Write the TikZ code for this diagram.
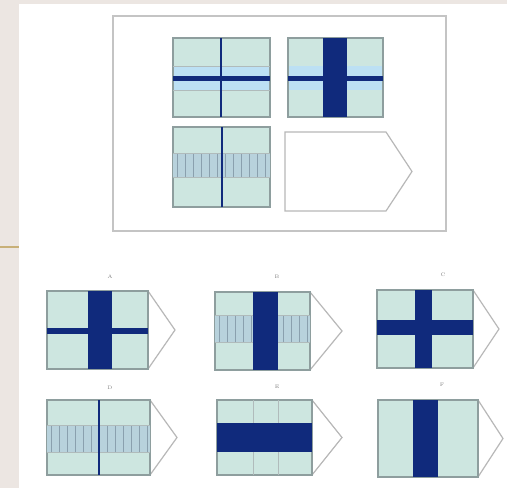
\documentclass[tikz,border=0pt]{standalone}
\usetikzlibrary{calc}
\definecolor{paper}{HTML}{ECE6E2}
\definecolor{goldc}{HTML}{C8B078}
\definecolor{framec}{HTML}{C4C4C4}
\definecolor{cellc}{HTML}{CDE6E0}
\definecolor{lightc}{HTML}{BCE0F4}
\definecolor{gridc}{HTML}{8E9E9E}
\definecolor{navy}{HTML}{102A7C}
\definecolor{hatchc}{HTML}{B8D2DC}
\definecolor{hatchl}{HTML}{8AA0AE}
\definecolor{tagc}{HTML}{B8B8B8}
% tagged cell: corners (x1,y1) (x2,y2), tip x
\newcommand\tagcell[5]{\draw[tag] (#1,#2) -- (#3,#2) -- (#5,{(#2+#4)/2}) -- (#3,#4) -- (#1,#4) -- cycle;}
% hatched band between x1..x2 and y1..y2
\newcommand\hatchband[4]{\fill[hatch] (#1,#2) rectangle (#3,#4);
  \foreach \hx in {#1,...,#3} {\pgfmathparse{mod(\hx-#1,8)==4}\ifnum\pgfmathresult=1 \draw[hatchline] (\hx,#2) -- (\hx,#4);\fi}
  \draw[grid] (#1,#2) -- (#3,#2) (#1,#4) -- (#3,#4);}
\begin{document}
\begin{tikzpicture}[x=1pt,y=-1pt,
  cell/.style={fill=cellc,draw=gridc,line width=1.1pt},
  grid/.style={draw=gridc!70,line width=0.6pt},
  thinbar/.style={draw=navy,line width=5pt},
  bar/.style={fill=navy},
  lightband/.style={fill=lightc},
  hatch/.style={fill=hatchc},
  hatchline/.style={draw=hatchl,line width=0.7pt},
  tag/.style={draw=tagc,line width=1.2pt,fill=white},
  lbl/.style={font=\fontsize{5}{5}\selectfont,text=gray,inner sep=0pt}]
  \useasboundingbox (0,0) rectangle (507,488);
  % page
  \fill[white] (0,0) rectangle (507,488);
  \fill[paper] (0,0) rectangle (19,488);
  \fill[paper] (0,0) rectangle (507,4);
  \draw[goldc,line width=2pt] (0,247) -- (19,247);
  % question frame
  \draw[framec,line width=2.4pt] (113,16) rectangle (446,231);
  % question cell 1
  \draw[cell] (173,38) rectangle (270,117);
  \fill[lightband] (174,66) rectangle (269,90);
  \draw[grid] (173,66) -- (270,66) (173,90) -- (270,90);
  \draw[thinbar] (173,78) -- (270,78);
  \draw[navy,line width=2pt] (221,38) -- (221,117);
  % question cell 2
  \draw[cell] (288,38) rectangle (383,117);
  \fill[lightband] (289,66) rectangle (382,90);
  \draw[thinbar] (288,78) -- (383,78);
  \fill[bar] (323,38) rectangle (347,117);
  % question cell 3
  \draw[cell] (173,127) rectangle (270,207);
  \hatchband{173}{153}{270}{177}
  \draw[navy,line width=2pt] (222,127) -- (222,207);
  % question cell 4 (blank)
  \tagcell{285}{132}{386}{211}{412}
  % option A
  \tagcell{47}{291}{148}{369}{175}
  \draw[cell] (47,291) rectangle (148,369);
  \draw[navy,line width=6pt] (47,331) -- (148,331);
  \fill[bar] (88,291) rectangle (112,369);
  \node[lbl] (la) at (110,277) {A};
  % option B
  \tagcell{215}{292}{310}{370}{342}
  \draw[cell] (215,292) rectangle (310,370);
  \hatchband{215}{315}{310}{342}
  \fill[bar] (253,292) rectangle (278,370);
  \node[lbl] (lb) at (277,277) {B};
  % option C
  \tagcell{377}{290}{473}{368}{499}
  \draw[cell] (377,290) rectangle (473,368);
  \fill[bar] (377,320) rectangle (473,335);
  \fill[bar] (415,290) rectangle (432,368);
  \node[lbl] (lc) at (443,275) {C};
  % option D
  \tagcell{47}{400}{150}{475}{177}
  \draw[cell] (47,400) rectangle (150,475);
  \hatchband{47}{425}{150}{452}
  \draw[navy,line width=2pt] (99,400) -- (99,475);
  \node[lbl] (ld) at (110,388) {D};
  % option E
  \tagcell{217}{400}{312}{475}{342}
  \draw[cell] (217,400) rectangle (312,475);
  \draw[grid] (253,400) -- (253,475) (278,400) -- (278,475);
  \fill[bar] (217,423) rectangle (312,452);
  \node[lbl] (le) at (277,387) {E};
  % option F
  \tagcell{378}{400}{478}{477}{503}
  \draw[cell] (378,400) rectangle (478,477);
  \fill[bar] (413,400) rectangle (438,477);
  \node[lbl] (lf) at (442,385) {F};
\end{tikzpicture}
\end{document}
